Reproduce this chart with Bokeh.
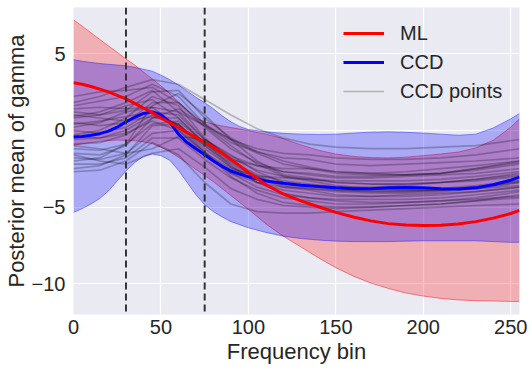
from bokeh.plotting import figure
from bokeh.models import Span, Legend, LegendItem, FixedTicker, Range1d
from bokeh.embed import file_html
from bokeh.resources import INLINE

# ---------------- data ----------------
x_main = [0, 5, 10, 15, 20, 25, 30, 35, 40, 45, 50, 55, 60, 65, 70, 75, 80, 85, 90, 95, 100,
          110, 120, 130, 140, 150, 160, 170, 180, 190, 200, 210, 220, 230, 240, 250, 255]

ml_mean = [3.1, 3.0, 2.85, 2.68, 2.5, 2.28, 2.05, 1.75, 1.45, 1.15, 0.8, 0.5, 0.17, -0.15, -0.45,
           -0.78, -1.1, -1.5, -1.9, -2.3, -2.75,
           -3.55, -4.15, -4.6, -4.98, -5.35, -5.65, -5.9, -6.08, -6.17, -6.2, -6.18, -6.1, -5.95,
           -5.72, -5.42, -5.22]
ml_upper = [7.2, 6.78, 6.35, 5.92, 5.5, 5.08, 4.65, 4.25, 3.8, 3.35, 2.9, 2.4, 1.85, 1.3, 0.8,
            0.55, 0.4, 0.28, 0.18, 0.08, -0.02,
            -0.25, -0.55, -0.95, -1.3, -1.55, -1.7, -1.78, -1.8, -1.75, -1.65, -1.55, -1.42, -1.15,
            -0.65, 0.2, 0.75]
ml_lower = [-0.97, -0.88, -0.8, -0.72, -0.67, -0.64, -0.65, -0.68, -0.75, -0.87, -1.1, -1.4, -1.75,
            -2.15, -2.55, -2.95, -3.35, -3.8, -4.25, -4.7, -5.15,
            -6.1, -6.9, -7.6, -8.3, -8.95, -9.5, -9.95, -10.3, -10.6, -10.8, -10.95, -11.05, -11.1,
            -11.12, -11.15, -11.15]

ccd_mean = [-0.43, -0.4, -0.32, -0.22, -0.05, 0.2, 0.55, 0.85, 1.1, 1.2, 1.0, 0.55, -0.25, -0.8,
            -1.2, -1.6, -2.0, -2.35, -2.65, -2.85, -3.03,
            -3.3, -3.45, -3.58, -3.66, -3.75, -3.8, -3.8, -3.75, -3.72, -3.75, -3.8, -3.82, -3.75,
            -3.55, -3.25, -3.05]
ccd_upper = [4.6, 4.5, 4.42, 4.35, 4.3, 4.25, 4.2, 4.1, 3.98, 3.85, 3.6, 3.3, 2.95, 2.55, 2.15,
             1.8, 1.4, 0.95, 0.55, 0.25, 0.05,
             -0.1, -0.2, -0.25, -0.27, -0.25, -0.18, -0.12, -0.1, -0.13, -0.18, -0.25, -0.32,
             -0.25, 0.15, 0.75, 1.1]
ccd_lower = [-5.35, -5.1, -4.8, -4.45, -3.95, -3.3, -2.65, -2.1, -1.7, -1.55, -1.65, -1.95, -2.6,
             -3.4, -4.2, -4.85, -5.3, -5.65, -5.95, -6.15, -6.35,
             -6.65, -6.9, -7.05, -7.15, -7.22, -7.25, -7.25, -7.25, -7.22, -7.2, -7.2, -7.2, -7.2,
             -7.25, -7.3, -7.3]

x_points = [0, 15, 30, 45, 60, 75, 90, 105, 120, 135, 150, 170, 190, 210, 230, 255]
ccd_points = [
    [1.8, 2.2, 2.8, 3.3, 3.0, 2.0, 1.0, 0.1, -0.5, -0.9, -1.1, -1.2, -1.2, -1.1, -1.0, -0.6],
    [2.2, 2.5, 2.6, 2.8, 1.8, 0.4, -0.6, -1.2, -1.5, -1.6, -1.8, -1.9, -1.9, -1.8, -1.6, -1.2],
    [1.6, 1.9, 2.2, 3.0, 2.2, 0.4, -0.8, -1.4, -1.8, -1.9, -2.2, -2.3, -2.2, -2.1, -2.0, -1.8],
    [1.2, 1.0, 1.3, 2.5, 2.6, 0.8, -0.5, -1.4, -2.0, -2.4, -2.7, -2.8, -2.7, -2.5, -2.3, -2.0],
    [0.8, 1.0, 1.6, 2.0, 0.8, -0.9, -1.9, -2.3, -2.5, -2.5, -2.7, -2.8, -2.9, -2.8, -2.6, -2.2],
    [0.5, 0.3, 0.5, 1.8, 1.8, 0.2, -1.2, -2.1, -2.7, -2.9, -3.1, -3.1, -3.0, -2.9, -2.8, -2.5],
    [0.2, 0.5, 1.2, 1.5, 0.2, -1.5, -2.5, -3.0, -3.1, -3.2, -3.3, -3.3, -3.3, -3.2, -3.0, -2.7],
    [0.0, -0.2, 0.2, 1.2, 1.0, -0.6, -1.8, -2.6, -3.0, -3.2, -3.4, -3.5, -3.5, -3.4, -3.3, -3.0],
    [-0.3, 0.0, 0.8, 2.2, 1.6, -0.5, -2.0, -2.9, -3.3, -3.5, -3.7, -3.7, -3.6, -3.4, -3.2, -2.9],
    [-0.6, -0.5, 0.0, 1.0, 0.4, -1.2, -2.4, -3.1, -3.5, -3.6, -3.8, -3.9, -3.9, -3.8, -3.6, -3.3],
    [-0.9, -0.8, -0.3, 0.8, 1.4, 0.3, -1.0, -2.2, -3.0, -3.3, -3.6, -3.8, -3.9, -3.9, -3.7, -3.4],
    [-1.2, -1.3, -0.9, 0.4, 0.6, -0.8, -2.1, -3.0, -3.6, -3.8, -4.0, -4.1, -4.1, -4.0, -3.8, -3.4],
    [-1.5, -1.6, -1.0, 0.8, 0.8, -0.8, -2.3, -3.4, -3.9, -4.1, -4.3, -4.3, -4.2, -4.1, -4.0, -3.7],
    [-1.8, -1.9, -1.5, -0.2, 0.0, -1.4, -2.8, -3.7, -4.2, -4.4, -4.5, -4.5, -4.5, -4.4, -4.2, -3.9],
    [-2.2, -2.2, -1.8, -0.5, -0.5, -1.9, -3.1, -3.9, -4.4, -4.6, -4.8, -4.8, -4.7, -4.6, -4.4, -4.0],
    [-2.5, -2.3, -1.6, 0.3, 0.4, -1.4, -3.0, -4.1, -4.7, -4.9, -5.0, -5.0, -4.9, -4.8, -4.6, -4.4],
    [-2.7, -2.6, -2.0, -0.8, -1.6, -3.4, -4.8, -5.3, -5.4, -5.4, -5.3, -5.2, -5.1, -5.0, -4.9, -4.8],
    [0.9, 1.2, 1.8, 2.6, 1.2, -0.6, -1.7, -2.3, -2.7, -2.8, -3.0, -3.0, -2.9, -2.8, -2.5, -2.0],
    [-0.4, -0.5, -0.2, 0.6, 0.0, -1.6, -2.8, -3.4, -3.7, -3.8, -3.9, -4.0, -4.0, -3.9, -3.8, -3.6],
    [1.4, 1.5, 1.4, 1.5, 1.2, 0.3, -0.6, -1.5, -2.2, -2.5, -2.8, -2.9, -2.9, -2.8, -2.5, -2.1],
    [-1.0, -1.2, -1.5, -1.2, -0.4, -0.6, -1.6, -2.7, -3.4, -3.6, -3.9, -4.0, -4.0, -3.9, -3.7, -3.3],
    [0.4, 0.6, 0.9, 1.2, 0.3, -1.0, -2.2, -3.1, -3.7, -3.9, -4.2, -4.3, -4.3, -4.2, -4.0, -3.7],
    [-2.0, -1.8, -0.9, 1.6, 2.4, 1.0, -0.6, -2.0, -2.9, -3.1, -3.4, -3.5, -3.5, -3.4, -3.2, -2.8],
    [1.0, 0.8, 0.6, 0.9, 0.4, -1.0, -2.4, -3.4, -4.1, -4.4, -4.6, -4.7, -4.7, -4.6, -4.5, -4.3],
    [-1.6, -2.0, -2.2, -1.5, -1.2, -2.4, -3.8, -4.5, -4.9, -5.0, -5.1, -5.0, -4.9, -4.8, -4.6, -4.2],
]

vlines = [30, 75]
x_ticks = [0, 50, 100, 150, 200, 250]
y_ticks = [-10, -5, 0, 5]
y_tick_labels = {-10: "\u221210", -5: "\u22125", 0: "0", 5: "5"}
labels = ["ML", "CCD", "CCD points"]
x_title = "Frequency bin"
y_title = "Posterior mean of gamma"

FONT = "Liberation Sans"
TXT = "#262626"

# ---------------- figure ----------------
p = figure(width=528, height=370, output_backend="svg", toolbar_location=None,
           x_range=Range1d(0, 255), y_range=Range1d(-12, 8),
           min_border_left=73, min_border_right=9, min_border_top=7, min_border_bottom=56)
p.background_fill_color = "#EAEAF2"
p.border_fill_color = "white"
p.outline_line_color = None
p.grid.grid_line_color = "white"
p.grid.grid_line_width = 1.2
p.xaxis.ticker = FixedTicker(ticks=x_ticks)
p.yaxis.ticker = FixedTicker(ticks=y_ticks)
p.yaxis.major_label_overrides = y_tick_labels
p.xaxis.axis_label = x_title
p.yaxis.axis_label = y_title
for ax in (p.xaxis, p.yaxis):
    ax.axis_line_color = None
    ax.major_tick_line_color = None
    ax.minor_tick_line_color = None
    ax.major_tick_out = 0
    ax.major_tick_in = 0
    ax.major_label_text_font = FONT
    ax.major_label_text_font_size = "20px"
    ax.major_label_text_color = TXT
    ax.axis_label_text_font = FONT
    ax.axis_label_text_font_size = "22px"
    ax.axis_label_text_font_style = "normal"
    ax.axis_label_text_color = TXT
p.xaxis.axis_label_standoff = 2
p.yaxis.axis_label_standoff = 0
p.xaxis.major_label_standoff = 5
p.yaxis.major_label_standoff = 8

# bands
p.varea(x=x_main, y1=ml_lower, y2=ml_upper, fill_color="red", fill_alpha=0.25)
p.line(x_main, ml_upper, line_color="red", line_alpha=0.45, line_width=1)
p.line(x_main, ml_lower, line_color="red", line_alpha=0.45, line_width=1)
p.varea(x=x_main, y1=ccd_lower, y2=ccd_upper, fill_color="blue", fill_alpha=0.28)
p.line(x_main, ccd_upper, line_color="blue", line_alpha=0.4, line_width=1)
p.line(x_main, ccd_lower, line_color="blue", line_alpha=0.4, line_width=1)

# CCD point curves
r_pts = p.multi_line(xs=[x_points] * len(ccd_points), ys=ccd_points,
                     line_color="black", line_alpha=0.24, line_width=1.7)

# main curves
r_ccd = p.line(x_main, ccd_mean, line_color="blue", line_width=3)
r_ml = p.line(x_main, ml_mean, line_color="red", line_width=3)

for xv in vlines:
    p.add_layout(Span(location=xv, dimension="height", line_color="#333333",
                      line_dash="7 4", line_width=2))

legend = Legend(items=[LegendItem(label=labels[0], renderers=[r_ml]),
                       LegendItem(label=labels[1], renderers=[r_ccd]),
                       LegendItem(label=labels[2], renderers=[r_pts])],
                location=(266, 207))
legend.background_fill_alpha = 0
legend.border_line_alpha = 0
legend.label_text_font = FONT
legend.label_text_font_size = "20px"
legend.label_text_color = TXT
legend.glyph_width = 41
legend.glyph_height = 24
legend.label_height = 24
legend.spacing = 5
legend.padding = 4
legend.margin = 0
legend.label_standoff = 16
p.add_layout(legend)

open("out.html", "w").write(file_html(p, INLINE))
